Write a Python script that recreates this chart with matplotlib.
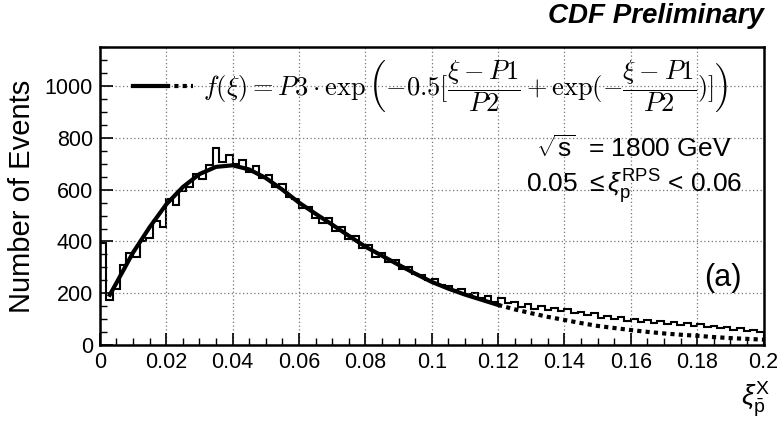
import matplotlib
matplotlib.use("Agg")
import matplotlib.pyplot as plt
from matplotlib.ticker import MultipleLocator

plt.rcParams['font.family'] = ['Liberation Sans', 'DejaVu Sans']
plt.rcParams['mathtext.fontset'] = 'custom'
plt.rcParams['mathtext.rm'] = 'Liberation Sans'
plt.rcParams['mathtext.it'] = 'Liberation Sans:italic'

# histogram: 100 bins of width 0.002 from 0 to 0.2
bin_width = 0.002
counts = [395, 175, 215, 310, 355, 340, 400, 415, 480, 455,
          565, 540, 595, 610, 660, 640, 695, 760, 705, 735,
          700, 715, 670, 690, 645, 655, 610, 620, 570, 565,
          530, 535, 490, 470, 490, 440, 455, 410, 420, 375,
          385, 340, 355, 320, 330, 295, 300, 275, 270, 250,
          255, 232, 230, 212, 218, 198, 200, 180, 188, 168,
          182, 162, 168, 148, 158, 140, 152, 135, 145, 132,
          138, 122, 128, 115, 122, 106, 112, 100, 108, 94,
          100, 90, 97, 86, 92, 82, 88, 76, 84, 74,
          80, 70, 75, 66, 70, 60, 66, 56, 60, 50]

# fit curve, solid over fit range, dotted extrapolation
fit_x = [0.003, 0.005, 0.01, 0.015, 0.02, 0.025, 0.03, 0.035, 0.04, 0.045,
         0.05, 0.055, 0.06, 0.065, 0.07, 0.075, 0.08, 0.085, 0.09, 0.095,
         0.1, 0.105, 0.11, 0.115, 0.12]
fit_y = [194, 240, 357, 455, 543, 610, 660, 688, 694, 678,
         645, 600, 550, 507, 465, 422, 380, 345, 310, 276,
         244, 218, 195, 175, 155]
ext_x = [0.12, 0.125, 0.13, 0.135, 0.14, 0.145, 0.15, 0.155, 0.16, 0.165,
         0.17, 0.175, 0.18, 0.185, 0.19, 0.195, 0.2]
ext_y = [155, 138, 123, 109, 97, 85, 74, 66, 58, 51,
         45, 40, 36, 31, 27, 24, 21]

xtick_labels = ['0', '0.02', '0.04', '0.06', '0.08', '0.1', '0.12', '0.14', '0.16', '0.18', '0.2']

fig = plt.figure(figsize=(7.8, 4.25), dpi=100)
ax = fig.add_axes([0.128, 0.188, 0.851, 0.701])

edges = [i * bin_width for i in range(len(counts) + 1)]
ax.stairs(counts, edges, color='k', linewidth=1.5)

ax.plot(fit_x, fit_y, 'k-', linewidth=3)
ax.plot(ext_x, ext_y, 'k', linestyle=(0, (1, 1)), linewidth=3)

ax.set_xlim(0, 0.2)
ax.set_ylim(0, 1150)
ax.set_xticks([i * 0.02 for i in range(11)])
ax.set_xticklabels(xtick_labels)
ax.xaxis.set_minor_locator(MultipleLocator(0.005))
ax.yaxis.set_major_locator(MultipleLocator(200))
ax.yaxis.set_minor_locator(MultipleLocator(50))
ax.tick_params(which='major', direction='in', length=9, width=1.2, labelsize=15.5, pad=5,
               top=False, right=False)
ax.tick_params(which='minor', direction='in', length=5, width=1.0, top=False, right=False)
ax.grid(True, which='major', linestyle=(0, (1, 2)), color='#777777', linewidth=0.9)
for s in ax.spines.values():
    s.set_linewidth(1.8)

ax.set_ylabel('Number of Events', fontsize=21, labelpad=6)

# legend style line with the fit formula
ax.plot([0.01, 0.02], [1000, 1000], 'k-', linewidth=3)
ax.plot([0.02, 0.028], [1000, 1000], 'k', linestyle=(0, (1, 1)), linewidth=3)
ax.text(0.031, 1000,
        r'$f(\xi) = P3 \cdot \exp\left(-0.5[\dfrac{\xi - P1}{P2} + \exp(-\dfrac{\xi - P1}{P2})]\right)$',
        fontsize=19, va='center', ha='left', math_fontfamily='cm')

ax.text(0.1905, 760, r'$\sqrt{\rm s}$  = 1800 GeV', fontsize=19, ha='right', va='center')
ax.text(0.1935, 610, r'0.05 $\leq \xi_{\rm p}^{\rm RPS}$ < 0.06', fontsize=19, ha='right', va='center')
ax.text(0.1935, 260, '(a)', fontsize=22, ha='right', va='center')

fig.text(0.979, 0.962, 'CDF Preliminary', fontsize=20, fontweight='bold', fontstyle='italic',
         ha='right', va='center')
fig.text(0.987, 0.06, r'$\xi_{\bar{\rm p}}^{\rm X}$', fontsize=20, ha='right', va='center')

fig.savefig('out.png', dpi=100)
